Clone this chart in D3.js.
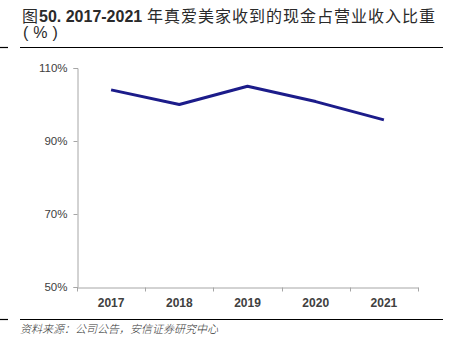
<!DOCTYPE html>
<html><head><meta charset="utf-8">
<script src="https://cdn.jsdelivr.net/npm/d3@7/dist/d3.min.js"></script>
<style>
html,body{margin:0;padding:0;background:#fff;}
svg{display:block;}
</style></head>
<body>
<script>
const titlePrefix = "图";
const titleNum = "50. 2017-2021";
const titleRest = "年真爱美家收到的现金占营业收入比重";
const titleLine2 = "(%)";
const sourceText = "资料来源：公司公告，安信证券研究中心";
const years = ["2017","2018","2019","2020","2021"];
const cashRatio = [104.0, 100.0, 105.0, 100.8, 95.8];
const yTicks = [50, 70, 90, 110];

const W = 456, H = 355;
const svg = d3.select("body").append("svg").attr("width", W).attr("height", H);
const latin = "'Liberation Sans', Arial, sans-serif";
const cjk = "'Noto Sans CJK SC', sans-serif";

// Title
svg.append("text").attr("x", 22).attr("y", 22).attr("font-size", 16).attr("fill", "#2a2a2a")
  .attr("font-family", cjk).text(titlePrefix);
svg.append("text").attr("x", 39).attr("y", 22).attr("font-size", 16).attr("fill", "#2a2a2a")
  .attr("font-family", latin).attr("font-weight", "bold").text(titleNum);
svg.append("text").attr("x", 147).attr("y", 22).attr("font-size", 16).attr("fill", "#2a2a2a")
  .attr("font-family", cjk).attr("textLength", 288).attr("lengthAdjust", "spacing").text(titleRest);
svg.append("text").attr("x", 23).attr("y", 38).attr("letter-spacing", 5)
  .attr("font-family", latin).attr("font-size", 16).attr("fill", "#2a2a2a").text(titleLine2);

// Rules
const rules = [[0, 8, 47.5], [20, 443, 47.5], [0, 8, 319.5], [20, 443, 319.5]];
svg.append("g").selectAll("line").data(rules).join("line")
  .attr("x1", d => d[0]).attr("x2", d => d[1]).attr("y1", d => d[2]).attr("y2", d => d[2])
  .attr("stroke", "#000").attr("stroke-width", 1.2);

// Source
svg.append("text").attr("x", 20).attr("y", 333)
  .attr("font-family", cjk).attr("font-style", "italic").attr("font-weight", 300)
  .attr("font-size", 11).attr("fill", "#333").text(sourceText);

// Scales
const x = d3.scaleBand().domain(years).range([77, 418]);
const y = d3.scaleLinear().domain([50, 110]).range([287, 68]);

const axisColor = "#a6a6a6";
const gy = svg.append("g").attr("transform", "translate(77.5,0)")
  .call(d3.axisLeft(y).tickValues(yTicks).tickSize(4).tickPadding(6).tickFormat(d => d + "%"));
gy.selectAll("path,line").attr("stroke", axisColor);
gy.selectAll("text").attr("font-family", latin)
  .attr("font-size", 11.5).attr("fill", "#404040");

const gx = svg.append("g").attr("transform", "translate(0,287.5)")
  .call(d3.axisBottom(x).tickSize(0).tickPadding(11));
gx.select(".domain").attr("stroke", axisColor);
gx.selectAll("text").attr("font-family", latin)
  .attr("font-size", 12).attr("font-weight", "bold").attr("fill", "#404040");
// band boundary ticks
const bounds = years.map(d => x(d)).concat([x.range()[1]]);
svg.append("g").selectAll("line").data(bounds).join("line")
  .attr("x1", d => Math.round(d) + 0.5).attr("x2", d => Math.round(d) + 0.5)
  .attr("y1", 287.5).attr("y2", 291.5).attr("stroke", axisColor);

// Line
const line = d3.line().x((d, i) => x(years[i]) + x.bandwidth() / 2).y(d => y(d));
svg.append("path").datum(cashRatio).attr("d", line)
  .attr("fill", "none").attr("stroke", "#1c1c8a").attr("stroke-width", 3)
  .attr("stroke-linejoin", "round");
</script>
</body></html>
